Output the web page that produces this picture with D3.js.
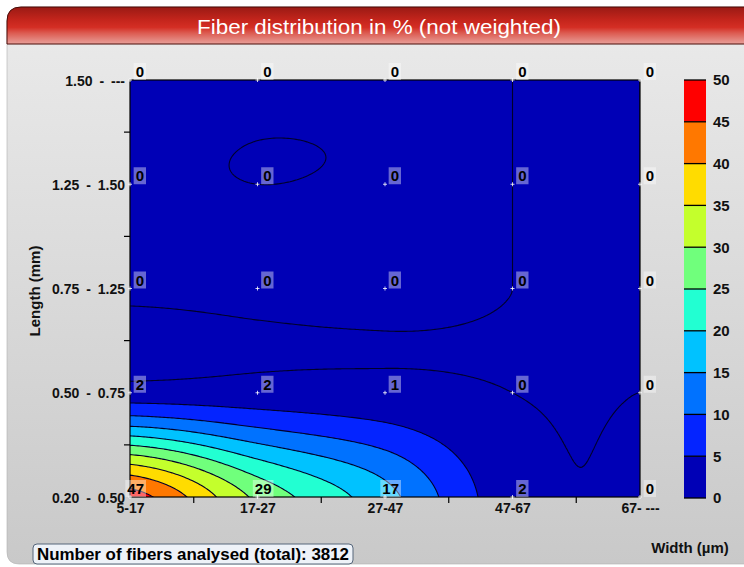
<!DOCTYPE html>
<html><head><meta charset="utf-8">
<script src="https://cdn.jsdelivr.net/npm/d3@7"></script>
<style>
html,body{margin:0;padding:0;background:#fff;}
svg{display:block;}
text{font-family:"Liberation Sans",Arial,sans-serif;}
</style></head><body>
<svg id="chart" width="744" height="567"></svg>
<script>
// ---- data ----
const widthCategories = ["5-17", "17-27", "27-47", "47-67", "67- ---"];
const lengthCategories = ["0.20 - 0.50", "0.50 - 0.75", "0.75 - 1.25", "1.25 - 1.50", "1.50 - ---"];
// fiber share in % per length class (bottom to top), one value per width class
const row020_050 = [47.3, 28.9, 16.8, 1.83, 0.1];
const row050_075 = [2.1, 1.9, 1.2, 0.0, 0.0];
const row075_125 = [0.3, 0.45, 0.45, 0.0, 0.0];
const row125_150 = [0.1, 0.0, 0.05, 0.0, 0.0];
const row150_up  = [0.15, 0.08, 0.05, 0.0, 0.0];
const colorLevels = [0, 5, 10, 15, 20, 25, 30, 35, 40, 45, 50];
const levelColors = ["#0000b6", "#0424ff", "#0072ff", "#00c2ff", "#22ffd2", "#70ff7c", "#c4ff2c", "#ffdc00", "#ff7800", "#ff0000"];
const titleText = "Fiber distribution in % (not weighted)";
const xTitle = "Width (µm)";
const yTitle = "Length (mm)";
const totalFibers = 3812;

const grid = [row020_050, row050_075, row075_125, row125_150, row150_up];

const svg = d3.select("#chart");
const defs = svg.append("defs");

// ---- background panel ----
const bg = defs.append("linearGradient").attr("id","bgGrad").attr("x1",0).attr("y1",0).attr("x2",0).attr("y2",1);
bg.append("stop").attr("offset","0%").attr("stop-color","#ebebeb");
bg.append("stop").attr("offset","100%").attr("stop-color","#c9c9c9");
const tg = defs.append("linearGradient").attr("id","titleGrad").attr("x1",0).attr("y1",0).attr("x2",0).attr("y2",1);
[["0%","#9a1a14"],["35%","#c4251c"],["55%","#d42e24"],["70%","#dc5a50"],["100%","#e8a09a"]].forEach(s=>tg.append("stop").attr("offset",s[0]).attr("stop-color",s[1]));

svg.append("path").attr("d","M7,21 Q7,7 21,7 H760 V564 H19 Q7,564 7,552 Z")
  .attr("fill","url(#bgGrad)").attr("stroke","#b0b0b0").attr("stroke-width",0.6);
svg.append("path").attr("d","M7,44 V21 Q7,7 21,7 H760 V44 Z")
  .attr("fill","url(#titleGrad)").attr("stroke","#4a0a06").attr("stroke-width",1);
svg.append("text").attr("x",379).attr("y",34).attr("text-anchor","middle")
  .attr("fill","#fff").attr("font-size",20).attr("textLength",364).attr("lengthAdjust","spacingAndGlyphs")
  .style("font-family","'Liberation Sans Narrow','Liberation Sans',Arial,sans-serif")
  .text(titleText);

// ---- scales ----
const plotL = 130, plotR = 640, plotT = 80, plotB = 497;
const x = d3.scalePoint().domain(widthCategories).range([plotL, plotR]);
const y = d3.scalePoint().domain(lengthCategories).range([plotB, plotT]);
const xLin = d3.scaleLinear().domain([0, widthCategories.length-1]).range([plotL, plotR]);
const yLin = d3.scaleLinear().domain([0, lengthCategories.length-1]).range([plotB, plotT]);
const color = d3.scaleThreshold().domain(colorLevels.slice(1, -1)).range(levelColors);

// ---- smooth surface (Catmull-Rom bicubic) ----
const nR = grid.length, nC = grid[0].length;
function cr(p0,p1,p2,p3,t){const t2=t*t,t3=t2*t;return 0.5*(2*p1+(-p0+p2)*t+(2*p0-5*p1+4*p2-p3)*t2+(-p0+3*p1-3*p2+p3)*t3);}
function at(r,c){r=Math.max(0,Math.min(nR-1,r));c=Math.max(0,Math.min(nC-1,c));return grid[r][c];}
function surf(u,v){
  const c=Math.min(nC-2,Math.floor(u)), s=u-c, r=Math.min(nR-2,Math.floor(v)), t=v-r;
  const rv=[];
  for(let k=-1;k<=2;k++){const rr=r+k;rv.push(cr(at(rr,c-1),at(rr,c),at(rr,c+1),at(rr,c+2),s));}
  return cr(rv[0],rv[1],rv[2],rv[3],t);
}
const nx = 256, ny = 210;
const values = new Array(nx*ny);
for(let j=0;j<ny;j++){for(let i=0;i<nx;i++){
  values[j*nx+i]=surf(i/(nx-1)*(nC-1),(nR-1)-j/(ny-1)*(nR-1));
}}
const contours = d3.contours().size([nx,ny]).thresholds(colorLevels.slice(0,-1))(values);
const proj = d3.geoTransform({point:function(px,py){
  this.stream.point(xLin((px-0.5)/(nx-1)*(nC-1)), yLin((nR-1)-(py-0.5)/(ny-1)*(nR-1)));
}});
const path = d3.geoPath(proj);

defs.append("clipPath").attr("id","plotClip").append("rect")
  .attr("x",plotL).attr("y",plotT).attr("width",plotR-plotL).attr("height",plotB-plotT);
const plot = svg.append("g").attr("clip-path","url(#plotClip)");
plot.append("rect").attr("x",plotL).attr("y",plotT).attr("width",plotR-plotL).attr("height",plotB-plotT)
  .attr("fill",levelColors[0]);
plot.selectAll("path.band").data(contours.filter(c=>c.value>0)).join("path").attr("class","band")
  .attr("d",path).attr("fill",d=>color(d.value));
plot.selectAll("path.line").data(contours).join("path").attr("class","line")
  .attr("d",path).attr("fill","none").attr("stroke","#00002a").attr("stroke-width",1.1);
svg.append("rect").attr("x",plotL).attr("y",plotT).attr("width",plotR-plotL).attr("height",plotB-plotT)
  .attr("fill","none").attr("stroke","#000").attr("stroke-width",1.2);

// ---- axes ----
const yAxis = d3.axisLeft(y).tickSize(0).tickPadding(5);
const gy = svg.append("g").attr("transform",`translate(${plotL},0)`).call(yAxis);
gy.select(".domain").remove();
gy.selectAll("text").attr("font-size",14).attr("font-weight","bold").attr("fill","#111")
  .style("font-family","'Liberation Sans',Arial,sans-serif").style("word-spacing","3px").attr("dy","0.36em");
const xAxis = d3.axisBottom(x).tickSize(0).tickPadding(6);
const gx = svg.append("g").attr("transform",`translate(0,${plotB})`).call(xAxis);
gx.select(".domain").remove();
gx.selectAll("text").attr("font-size",14).attr("font-weight","bold").attr("fill","#111")
  .style("font-family","'Liberation Sans',Arial,sans-serif");
// minor ticks between classes
svg.append("g").selectAll("line").data(d3.range(0.5, nC-1, 1)).join("line")
  .attr("x1",d=>xLin(d)).attr("x2",d=>xLin(d)).attr("y1",plotB).attr("y2",plotB+6).attr("stroke","#000").attr("stroke-width",1.2);
svg.append("g").selectAll("line").data(d3.range(0.5, nR-1, 1)).join("line")
  .attr("y1",d=>yLin(d)).attr("y2",d=>yLin(d)).attr("x1",plotL-6).attr("x2",plotL).attr("stroke","#000").attr("stroke-width",1.2);

svg.append("text").attr("transform","translate(40,291) rotate(-90)").attr("text-anchor","middle")
  .attr("font-size",15).attr("font-weight","bold").attr("fill","#111").text(yTitle);
svg.append("text").attr("x",690).attr("y",553).attr("text-anchor","middle")
  .attr("font-size",15).attr("font-weight","bold").attr("fill","#111").text(xTitle);

// ---- point labels ----
const cells = [];
grid.forEach((row,ri)=>row.forEach((v,ci)=>cells.push({r:ri,c:ci,v:v})));
const lab = svg.append("g");
const lg = lab.selectAll("g").data(cells).join("g")
  .attr("transform",d=>`translate(${x(widthCategories[d.c])},${y(lengthCategories[d.r])})`);
lg.each(function(d){
  const g = d3.select(this);
  const txt = String(Math.round(d.v));
  const t = g.append("text").attr("x",14).attr("y",-3).attr("text-anchor","end")
    .attr("font-size",15).attr("font-weight","bold").attr("fill","#000").text(txt);
  const w = t.node().getComputedTextLength();
  g.insert("rect","text").attr("x",14-w-2).attr("y",-17).attr("width",w+4).attr("height",17)
    .attr("fill","#fff").attr("fill-opacity",0.4);
  g.append("path").attr("d","M-2,0H2M0,-2V2").attr("stroke","#fff").attr("stroke-opacity",0.8).attr("stroke-width",1);
});

// ---- color bar ----
const cbX = 684, cbW = 22;
const cbY = d3.scaleLinear().domain([colorLevels[0], colorLevels[colorLevels.length-1]]).range([498, 80]);
const cb = svg.append("g");
cb.selectAll("rect").data(levelColors).join("rect")
  .attr("x",cbX).attr("width",cbW)
  .attr("y",(d,i)=>cbY(colorLevels[i+1])).attr("height",(d,i)=>cbY(colorLevels[i])-cbY(colorLevels[i+1]))
  .attr("fill",d=>d);
cb.selectAll("line").data(colorLevels).join("line")
  .attr("x1",cbX).attr("x2",cbX+cbW).attr("y1",d=>cbY(d)).attr("y2",d=>cbY(d)).attr("stroke","#000").attr("stroke-width",1.3);
cb.selectAll("text").data(colorLevels).join("text")
  .attr("x",713).attr("y",d=>cbY(d)).attr("dy","0.36em")
  .attr("font-size",15).attr("font-weight","bold").attr("fill","#111").text(d=>d);

// ---- footer ----
svg.append("rect").attr("x",33).attr("y",544).attr("width",320).attr("height",20).attr("rx",4)
  .attr("fill","#eef2f8").attr("stroke","#56667a").attr("stroke-width",1);
svg.append("text").attr("x",193).attr("y",560).attr("text-anchor","middle")
  .attr("font-size",16).attr("font-weight","bold").attr("fill","#000")
  .attr("textLength",312).attr("lengthAdjust","spacingAndGlyphs")
  .text("Number of fibers analysed (total): " + totalFibers);
</script>
</body></html>
